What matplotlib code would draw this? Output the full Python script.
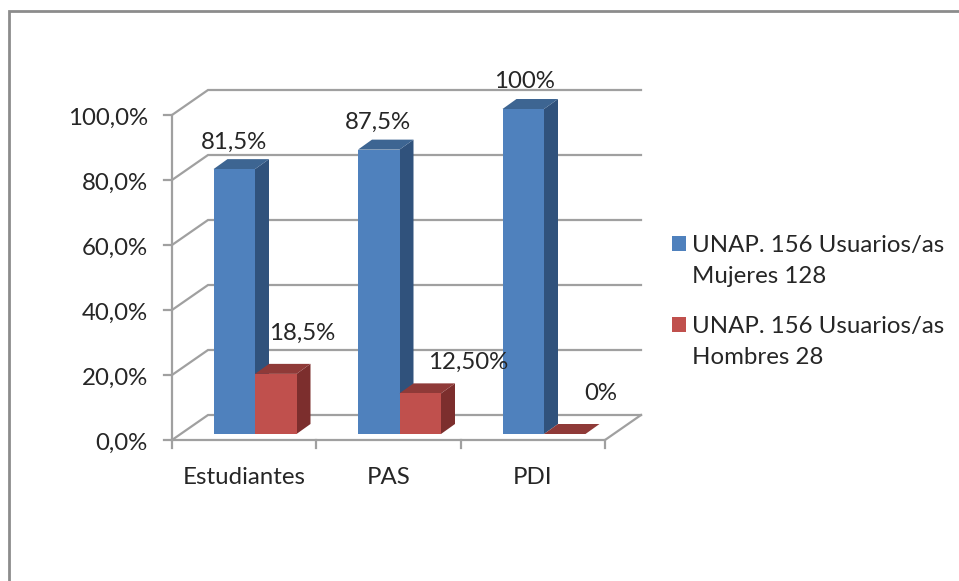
import matplotlib
matplotlib.use("Agg")
import matplotlib.pyplot as plt
from matplotlib.lines import Line2D
from matplotlib.patches import Polygon, Rectangle

categorias = ["Estudiantes", "PAS", "PDI"]
mujeres = [81.5, 87.5, 100]
hombres = [18.5, 12.5, 0]
etiquetas_mujeres = ["81,5%", "87,5%", "100%"]
etiquetas_hombres = ["18,5%", "12,50%", "0%"]
ticks_y = [0, 20, 40, 60, 80, 100]
ticks_y_txt = ["0,0%", "20,0%", "40,0%", "60,0%", "80,0%", "100,0%"]
leyenda = ["UNAP. 156 Usuarios/as\nMujeres 128", "UNAP. 156 Usuarios/as\nHombres 28"]

plt.rcParams["font.family"] = ["Lato", "DejaVu Sans"]

ANCHO, ALTO = 959, 581
PX_CAT = 144.5   # pixeles por categoria
PX_PCT = 3.25    # pixeles por punto porcentual
X0, Y0 = 255, 434  # origen de los datos en pixeles
FS = 17.3
GRIS = "#a0a0a0"
TXT = "#262626"
AZUL, ROJO = "#4F81BD", "#C0504D"

fig = plt.figure(figsize=(ANCHO / 100, ALTO / 100), dpi=100, facecolor="white")
ax = fig.add_axes([0, 0, 1, 1])
ax.set_xlim(-X0 / PX_CAT, (ANCHO - X0) / PX_CAT)
ax.set_ylim((Y0 - ALTO) / PX_PCT, Y0 / PX_PCT)
ax.axis("off")

# pasos de pixeles a unidades de datos
def dx(px):
    return px / PX_CAT

def dy(px):
    return px / PX_PCT

# marco exterior
fig.add_artist(Line2D([9.3 / ANCHO, 9.3 / ANCHO, 1], [0, 1 - 11 / ALTO, 1 - 11 / ALTO],
                      color="#8c8c8c", lw=2.0, solid_joinstyle="miter"))

# paredes, rejilla y ejes
izq, der = dx(172 - X0), dx(605 - X0)
base = -dy(6)   # el eje frontal queda 6 px debajo de las barras
prof_x, prof_y = dx(36), dy(25)
for t in ticks_y:
    y = base + t
    ax.plot([izq - dx(8), izq, izq + prof_x, der + prof_x], [y, y, y + prof_y, y + prof_y],
            color=GRIS, lw=1.6, solid_joinstyle="miter", zorder=1)
ax.plot([izq, izq], [base, base + 100], color=GRIS, lw=1.6, zorder=1)
ax.plot([izq, der, der + prof_x], [base, base, base + prof_y], color=GRIS, lw=1.6, zorder=1)
for i in range(len(categorias) + 1):
    xt = izq + (der - izq) * i / len(categorias)
    ax.plot([xt, xt], [base, base - dy(8)], color=GRIS, lw=1.6, zorder=1)

# barras con caras en perspectiva
ANCHO_BARRA = 41.5 / PX_CAT
fx, fy = dx(14), dy(10)

def barra_3d(x, h, cara, techo, lado, z):
    x1, x2 = x - ANCHO_BARRA / 2, x + ANCHO_BARRA / 2
    ax.add_patch(Polygon([(x2, 0), (x2 + fx, fy), (x2 + fx, h + fy), (x2, h)], fc=lado, ec="none", zorder=z))
    ax.add_patch(Polygon([(x1, h), (x1 + fx, h + fy), (x2 + fx, h + fy), (x2, h)], fc=techo, ec="none", zorder=z))
    if h > 0:
        ax.bar(x, h, ANCHO_BARRA, color=cara, zorder=z + 0.1)

for i in range(len(categorias)):
    barra_3d(i - ANCHO_BARRA / 2, mujeres[i], AZUL, "#3D6592", "#30527C", 2)
    barra_3d(i + ANCHO_BARRA / 2, hombres[i], ROJO, "#8F3A38", "#7C2E2D", 3)

# etiquetas de datos (desplazamiento en pixeles desde la barra)
despl_m = [(-21, 27), (-22, 27), (-20, 27)]
despl_h = [(47, 41), (69, 31), (57, 41)]
for i in range(len(categorias)):
    ax.text(i + dx(despl_m[i][0]), mujeres[i] + dy(despl_m[i][1]), etiquetas_mujeres[i],
            ha="center", va="center", fontsize=FS, color=TXT, zorder=5)
    ax.text(i + dx(despl_h[i][0]), hombres[i] + dy(despl_h[i][1]), etiquetas_hombres[i],
            ha="center", va="center", fontsize=FS, color=TXT, zorder=5)

# textos de ejes
for t, s in zip(ticks_y, ticks_y_txt):
    ax.text(izq - dx(24), base + t - dy(3), s, ha="right", va="center", fontsize=FS, color=TXT)
for i, c in enumerate(categorias):
    ax.text(izq + (der - izq) * (i + 0.5) / len(categorias), base - dy(38), c,
            ha="center", va="center", fontsize=FS, color=TXT)

# leyenda a mano: el cuadro va alineado con la primera linea del texto
y_leyenda = [236, 317]
for texto, color, py in zip(leyenda, [AZUL, ROJO], y_leyenda):
    ax.add_patch(Rectangle((dx(672 - X0), dy(Y0 - py - 15)), dx(14), dy(15), fc=color, ec="none"))
    ax.text(dx(692 - X0), dy(Y0 - py + 1), texto, ha="left", va="top", fontsize=FS,
            color=TXT, linespacing=1.58)

fig.savefig("out.png", dpi=100)
